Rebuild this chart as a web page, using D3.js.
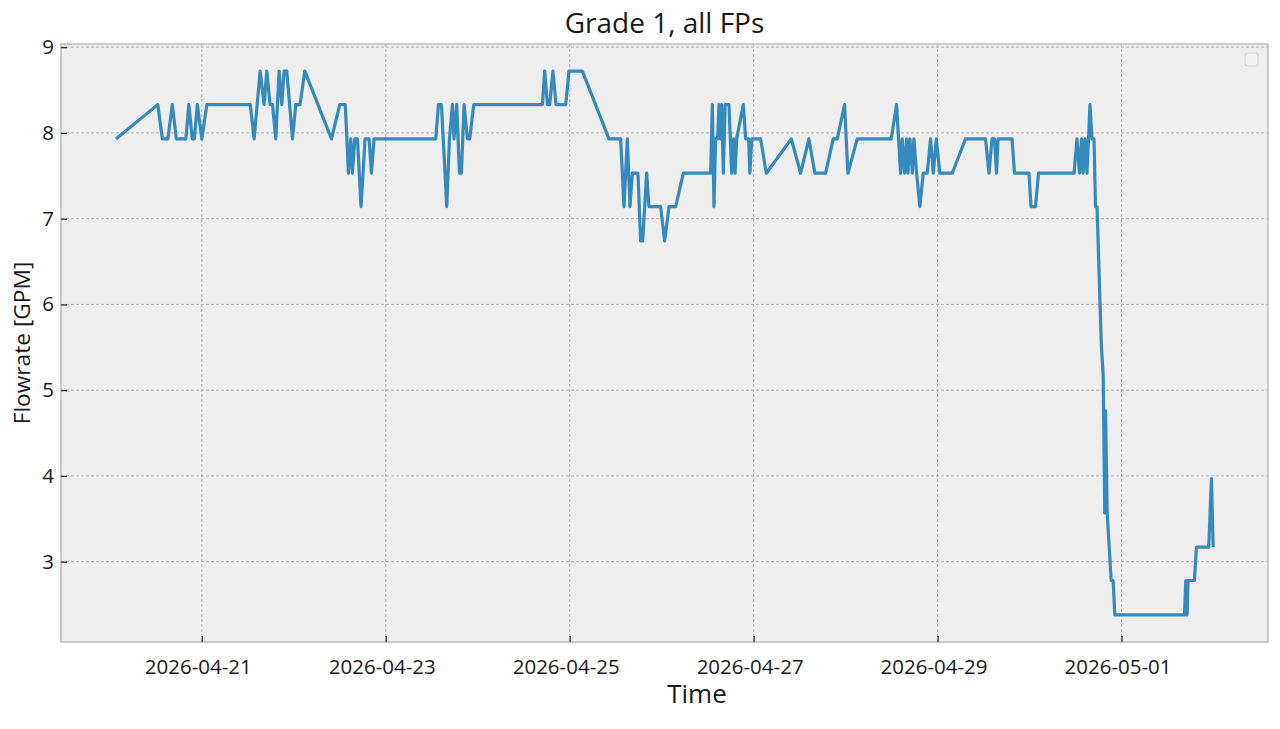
<!DOCTYPE html>
<html>
<head>
<meta charset="utf-8">
<script src="https://cdn.jsdelivr.net/npm/d3@7"></script>
<style>
  body { margin: 0; background: #ffffff; }
  text { font-family: "Open Sans", sans-serif; fill: #1a1a1a; }
</style>
</head>
<body>
<svg id="chart" width="1280" height="729"></svg>
<script>
const svg = d3.select("#chart"),
    width = +svg.attr("width"),
    height = +svg.attr("height");

// readings
const times = [
    "2026-04-20 01:34","2026-04-20 12:31","2026-04-20 13:42","2026-04-20 15:08","2026-04-20 16:18","2026-04-20 17:21","2026-04-20 19:50","2026-04-20 20:37","2026-04-20 21:31","2026-04-20 22:03","2026-04-20 22:50",
    "2026-04-21 00:00","2026-04-21 01:18","2026-04-21 12:39","2026-04-21 13:39","2026-04-21 15:13","2026-04-21 16:15","2026-04-21 16:57","2026-04-21 17:49","2026-04-21 18:27","2026-04-21 19:18","2026-04-21 20:10","2026-04-21 20:52","2026-04-21 21:28","2026-04-21 22:10","2026-04-21 23:40",
    "2026-04-22 00:31","2026-04-22 01:38","2026-04-22 02:52","2026-04-22 09:50","2026-04-22 12:00","2026-04-22 13:26","2026-04-22 14:16","2026-04-22 14:52","2026-04-22 15:19","2026-04-22 15:55","2026-04-22 16:37","2026-04-22 17:33","2026-04-22 18:36","2026-04-22 19:39","2026-04-22 20:16","2026-04-22 20:57",
    "2026-04-23 13:03","2026-04-23 13:45","2026-04-23 14:32","2026-04-23 15:55","2026-04-23 16:37","2026-04-23 17:24","2026-04-23 17:49","2026-04-23 18:31","2026-04-23 19:14","2026-04-23 19:45","2026-04-23 20:26","2026-04-23 21:19","2026-04-23 21:55","2026-04-23 22:57",
    "2026-04-24 16:53","2026-04-24 17:29","2026-04-24 18:11","2026-04-24 18:47","2026-04-24 19:38","2026-04-24 20:26","2026-04-24 22:58","2026-04-24 23:49",
    "2026-04-25 03:19","2026-04-25 10:15","2026-04-25 13:18","2026-04-25 14:10","2026-04-25 15:03","2026-04-25 15:44","2026-04-25 16:22","2026-04-25 17:49","2026-04-25 18:31","2026-04-25 19:03","2026-04-25 20:05","2026-04-25 20:41","2026-04-25 23:44",
    "2026-04-26 00:47","2026-04-26 01:55","2026-04-26 03:39","2026-04-26 05:40","2026-04-26 12:47","2026-04-26 13:14","2026-04-26 13:39","2026-04-26 14:05","2026-04-26 14:37","2026-04-26 14:57","2026-04-26 15:23","2026-04-26 15:39","2026-04-26 16:06","2026-04-26 16:34","2026-04-26 17:34","2026-04-26 18:16","2026-04-26 18:47","2026-04-26 19:10","2026-04-26 19:34","2026-04-26 21:19","2026-04-26 21:55","2026-04-26 22:42","2026-04-26 23:02","2026-04-26 23:29",
    "2026-04-27 01:50","2026-04-27 03:19","2026-04-27 09:50","2026-04-27 12:16","2026-04-27 14:26","2026-04-27 15:59","2026-04-27 18:47","2026-04-27 20:47","2026-04-27 21:50","2026-04-27 23:44",
    "2026-04-28 00:36","2026-04-28 03:03","2026-04-28 11:55","2026-04-28 13:18","2026-04-28 14:21","2026-04-28 14:47","2026-04-28 15:23","2026-04-28 15:55","2026-04-28 16:16","2026-04-28 16:47","2026-04-28 17:24","2026-04-28 17:49","2026-04-28 18:31","2026-04-28 19:23","2026-04-28 20:16","2026-04-28 21:19","2026-04-28 22:10","2026-04-28 22:53","2026-04-28 23:40",
    "2026-04-29 00:36","2026-04-29 03:50","2026-04-29 07:18","2026-04-29 12:31","2026-04-29 13:26","2026-04-29 14:13","2026-04-29 14:52","2026-04-29 15:23","2026-04-29 15:47","2026-04-29 19:26","2026-04-29 20:05","2026-04-29 23:52",
    "2026-04-30 00:23","2026-04-30 01:34","2026-04-30 02:21","2026-04-30 11:37","2026-04-30 12:23","2026-04-30 13:02","2026-04-30 13:34","2026-04-30 13:58","2026-04-30 14:29","2026-04-30 15:00","2026-04-30 15:47","2026-04-30 16:18","2026-04-30 16:50","2026-04-30 17:13","2026-04-30 17:37","2026-04-30 18:43","2026-04-30 19:14","2026-04-30 19:38","2026-04-30 19:50","2026-04-30 20:16","2026-04-30 21:19","2026-04-30 21:50","2026-04-30 22:15",
    "2026-05-01 16:26","2026-05-01 16:47","2026-05-01 17:08","2026-05-01 17:21","2026-05-01 19:02","2026-05-01 19:34","2026-05-01 22:46","2026-05-01 23:29","2026-05-01 23:55"
];
const flow = [
    7.93,8.33,7.93,7.93,8.33,7.93,7.93,8.33,7.93,7.93,8.33,
    7.93,8.33,8.33,7.93,8.72,8.33,8.72,8.33,8.33,7.93,8.72,8.33,8.72,8.72,7.93,
    8.33,8.33,8.72,7.93,8.33,8.33,7.53,7.93,7.53,7.93,7.93,7.14,7.93,7.93,7.53,7.93,
    7.93,8.33,8.33,7.14,7.93,8.33,7.93,8.33,7.53,7.53,8.33,7.93,7.93,8.33,
    8.33,8.72,8.33,8.33,8.72,8.33,8.33,8.72,
    8.72,7.93,7.93,7.14,7.93,7.14,7.53,7.53,6.74,6.74,7.53,7.14,7.14,
    6.74,7.14,7.14,7.53,7.53,8.33,7.14,7.93,7.93,8.33,7.93,8.33,7.53,8.33,8.33,7.53,7.93,7.53,7.93,8.33,7.93,7.93,7.53,7.93,
    7.93,7.53,7.93,7.53,7.93,7.53,7.53,7.93,7.93,8.33,
    7.53,7.93,7.93,8.33,7.53,7.93,7.53,7.93,7.53,7.93,7.53,7.93,7.53,7.14,7.53,7.53,7.93,7.53,7.93,
    7.53,7.53,7.93,7.93,7.53,7.93,7.93,7.53,7.93,7.93,7.53,7.53,
    7.14,7.14,7.53,7.53,7.93,7.53,7.93,7.53,7.93,7.53,8.33,7.93,7.93,7.14,7.14,5.55,5.16,3.57,4.76,3.57,2.78,2.78,2.38,
    2.38,2.78,2.38,2.78,2.78,3.17,3.17,3.97,3.17
];

const xTickDates = ["2026-04-21","2026-04-23","2026-04-25","2026-04-27","2026-04-29","2026-05-01"];
const yTicks = [3, 4, 5, 6, 7, 8, 9];

const title = "Grade 1, all FPs";
const xLabel = "Time";
const yLabel = "Flowrate [GPM]";

const margin = {top: 44, right: 12, bottom: 87, left: 61};
const plotW = width - margin.left - margin.right,
    plotH = height - margin.top - margin.bottom;

let parseTime = d3.timeParse("%Y-%m-%d %H:%M");
let parseDay = d3.timeParse("%Y-%m-%d");

let data = times.map(function (t, i) {
    return {time: parseTime(t), value: flow[i]};
});

// matplotlib style 5% padding around the data
let tExt = d3.extent(data, d => d.time);
let tPad = (tExt[1] - tExt[0]) * 0.05;
let vExt = d3.extent(data, d => d.value);
let vPad = (vExt[1] - vExt[0]) * 0.05;

let x = d3.scaleTime()
    .domain([new Date(+tExt[0] - tPad), new Date(+tExt[1] + tPad)])
    .range([0, plotW]);
let y = d3.scaleLinear()
    .domain([vExt[0] - vPad, vExt[1] + vPad])
    .range([plotH, 0]);

const g = svg.append("g")
    .attr("transform", "translate(" + margin.left + "," + margin.top + ")");

g.append("rect")
    .attr("width", plotW)
    .attr("height", plotH)
    .attr("fill", "#eeeeee");

// grid
let xTicks = xTickDates.map(d => parseDay(d));
g.append("g")
    .selectAll("line")
    .data(xTicks)
    .enter()
    .append("line")
    .attr("x1", d => x(d)).attr("x2", d => x(d))
    .attr("y1", 0).attr("y2", plotH)
    .style("stroke", "#b2b2b2")
    .style("stroke-width", 1)
    .style("stroke-dasharray", "3,2");
g.append("g")
    .selectAll("line")
    .data(yTicks)
    .enter()
    .append("line")
    .attr("x1", 0).attr("x2", plotW)
    .attr("y1", d => y(d)).attr("y2", d => y(d))
    .style("stroke", "#b2b2b2")
    .style("stroke-width", 1)
    .style("stroke-dasharray", "3,2");

let line = d3.line()
    .x(d => x(d.time))
    .y(d => y(d.value));

g.append("path")
    .datum(data)
    .attr("d", line)
    .attr("fill", "none")
    .style("stroke", "#348abd")
    .style("stroke-width", 3.2)
    .style("stroke-linejoin", "round");

// frame
g.append("rect")
    .attr("width", plotW)
    .attr("height", plotH)
    .attr("fill", "none")
    .style("stroke", "#bcbcbc")
    .style("stroke-width", 1.5);

// axes, ticks pointing inwards
let xAxis = d3.axisBottom(x)
    .tickValues(xTicks)
    .tickFormat(d3.timeFormat("%Y-%m-%d"))
    .tickSizeInner(-6)
    .tickSizeOuter(0)
    .tickPadding(17);
let yAxis = d3.axisLeft(y)
    .tickValues(yTicks)
    .tickFormat(d3.format("d"))
    .tickSizeInner(-6)
    .tickSizeOuter(0)
    .tickPadding(7);

let gx = g.append("g")
    .attr("transform", "translate(0," + plotH + ")")
    .call(xAxis);
let gy = g.append("g")
    .call(yAxis);

[gx, gy].forEach(function (a) {
    a.select(".domain").remove();
    a.selectAll(".tick line").style("stroke", "#222").style("stroke-width", 1.2);
    a.selectAll(".tick text")
        .style("font-family", "'Open Sans', sans-serif")
        .style("font-size", "20.5px")
        .style("fill", "#1a1a1a");
});
gx.selectAll(".tick text").attr("dx", -4);

// empty legend box
g.append("rect")
    .attr("x", plotW - 23)
    .attr("y", 9)
    .attr("width", 13)
    .attr("height", 13)
    .attr("rx", 2.5)
    .attr("fill", "#f2f2f2")
    .style("stroke", "#d0d0d0")
    .style("stroke-width", 1);

svg.append("text")
    .attr("x", margin.left + plotW / 2)
    .attr("y", 33)
    .attr("text-anchor", "middle")
    .style("font-size", "28px")
    .text(title);

svg.append("text")
    .attr("x", 697)
    .attr("y", 703)
    .attr("text-anchor", "middle")
    .style("font-size", "26px")
    .text(xLabel);

svg.append("text")
    .attr("transform", "translate(30," + (margin.top + plotH / 2) + ") rotate(-90)")
    .attr("text-anchor", "middle")
    .style("font-size", "22.7px")
    .text(yLabel);
</script>
</body>
</html>
